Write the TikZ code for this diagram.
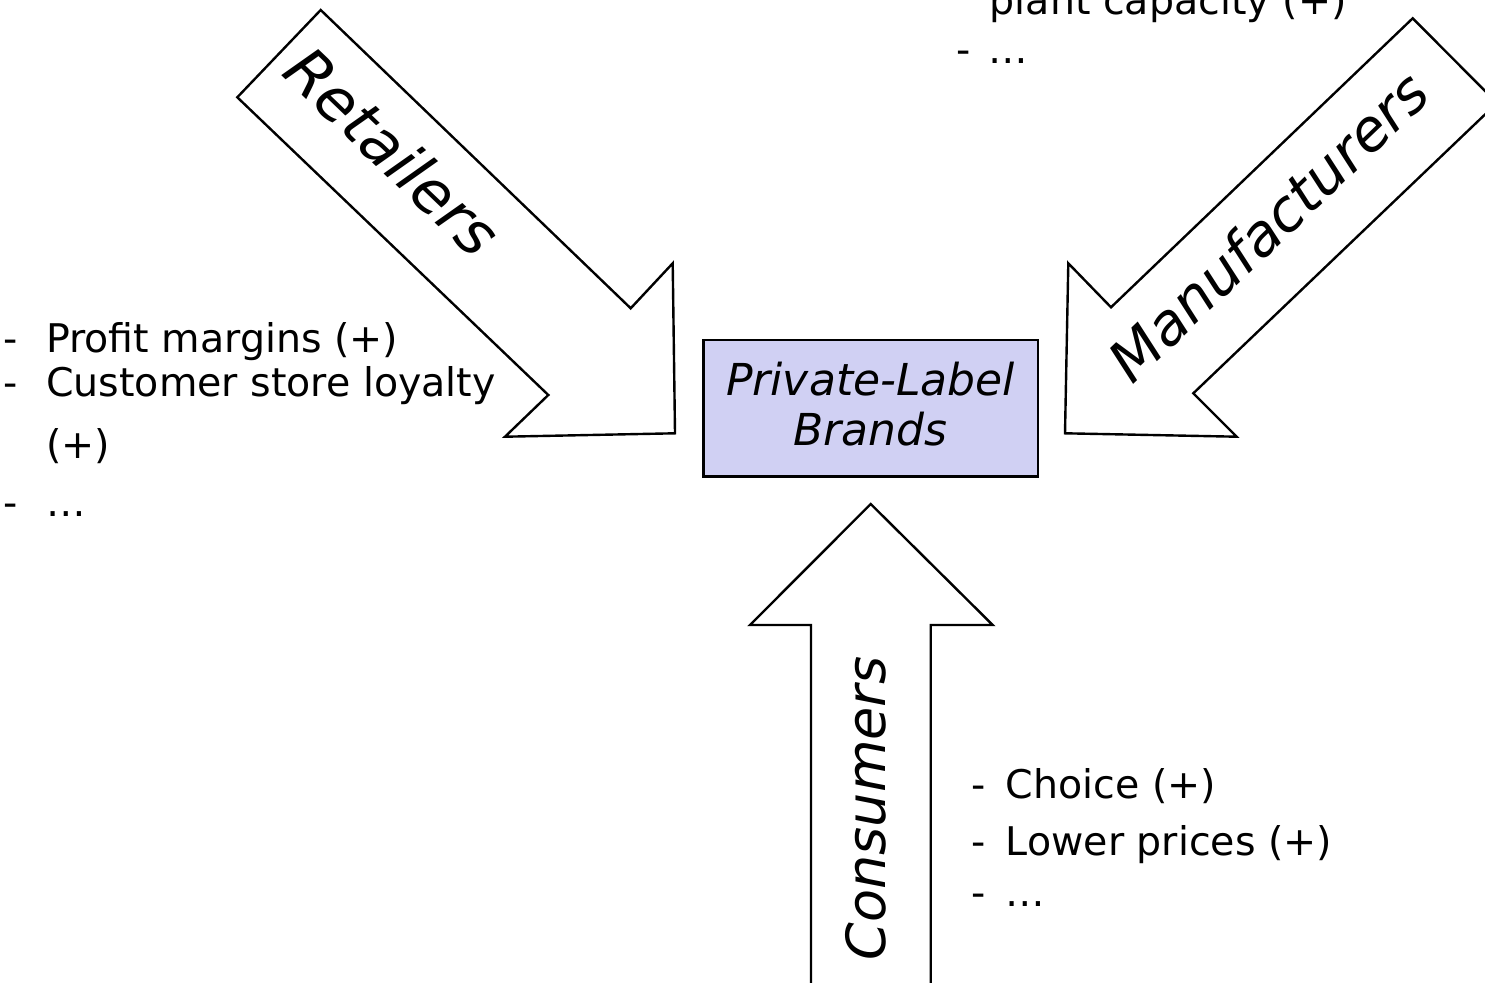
\documentclass[tikz,border=0pt]{standalone}
\usepackage{fontspec}
\setmainfont{DejaVu Sans}
\definecolor{hubfill}{RGB}{208,208,243}
\begin{document}
\begin{tikzpicture}[x=1pt,y=-1pt,
  blockarrow/.style={draw=black, fill=white, line width=2.4pt, line join=miter},
  hub/.style={draw=black, fill=hubfill, line width=2.4pt, inner sep=0pt,
              minimum width=334.4pt, minimum height=136.7pt},
  hubtext/.style={anchor=base, inner sep=0pt, font=\itshape\fontsize{44}{50}\selectfont},
  armlabel/.style={anchor=base, inner sep=0pt},
  listitem/.style={anchor=base west, inner sep=0pt, font=\fontsize{39.5}{47}\selectfont}]
\useasboundingbox (0,0) rectangle (1485,982);
\clip (0,0) rectangle (1485,982);

% central box
\node[hub] (plb) at (870.5,408.3) {};
\node[hubtext] (plbA) at (870.5,395) {Private-Label};
\node[hubtext] (plbB) at (870.5,445) {Brands};

% block arrow: retailers (from upper left)
\coordinate (rtip) at (675,433.3);
\draw[blockarrow] (320.7,10) -- (630.7,308.3) -- (672.7,263.3) -- (rtip)
  -- (505,436.7) -- (548.3,395) -- (237.3,97.3) -- cycle;
\node[armlabel, rotate=-43.8, font=\itshape\fontsize{61}{61}\selectfont]
  (retl) at (377.6,167.6) {Retailers};

% block arrow: manufacturers (from upper right)
\coordinate (mtip) at (1065,433.3);
\draw[blockarrow] (1412.7,18.3) -- (1111,307.3) -- (1068.3,263.3) -- (mtip)
  -- (1236.7,436.7) -- (1193.3,393.3) -- (1497,103) -- cycle;
\node[armlabel, rotate=43.8, font=\itshape\fontsize{57.5}{57.5}\selectfont]
  (manl) at (1283,241.5) {Manufacturers};

% block arrow: consumers (from below)
\coordinate (ctip) at (870.7,504);
\draw[blockarrow] (ctip) -- (992.7,625) -- (930.7,625) -- (930.7,1000)
  -- (811,1000) -- (811,625) -- (750,625) -- cycle;
\node[armlabel, rotate=90, font=\itshape\fontsize{54}{54}\selectfont]
  (conl) at (885,808.5) {Consumers};

% retailer motives
\node[listitem] (r1) at (3.3,352.3) {\makebox[42.7pt][l]{-}Profit margins (+)};
\node[listitem] (r2) at (3.3,396.7) {\makebox[42.7pt][l]{-}Customer store loyalty};
\node[listitem] (r3) at (46,458) {(+)};
\node[listitem] (r4) at (3.3,516) {\makebox[42.7pt][l]{-}…};

% consumer motives
\node[listitem] (c1) at (971.3,798.3) {\makebox[34.5pt][l]{-}Choice (+)};
\node[listitem] (c2) at (971.3,855) {\makebox[34.5pt][l]{-}Lower prices (+)};
\node[listitem] (c3) at (971.3,906.7) {\makebox[34.5pt][l]{-}…};

% manufacturer motives
\node[listitem] (m1) at (989.7,15) {plant capacity (+)};
\node[listitem] (m2) at (956.6,63.3) {\makebox[32pt][l]{-}…};
\end{tikzpicture}
\end{document}
